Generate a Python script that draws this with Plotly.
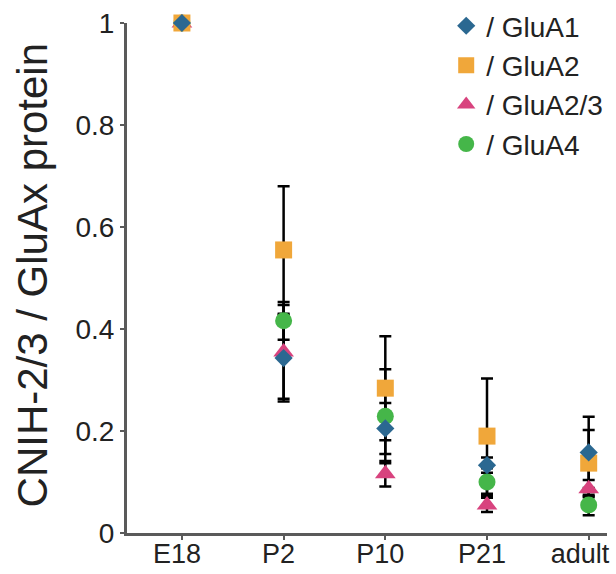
import plotly.graph_objects as go

categories = ["E18", "P2", "P10", "P21", "adult"]
x_tick_labels = ["E18", "P2", "P10", "P21", "adult\u00a0"]
y_ticks = [0, 0.2, 0.4, 0.6, 0.8, 1]
y_tick_labels = ["0", "0.2", "0.4", "0.6", "0.8", "1"]

glua1 = [1.0, 0.343, 0.205, 0.133, 0.158]
glua1_err = [0, 0.085, 0.05, 0.015, 0.07]
glua2 = [1.0, 0.555, 0.284, 0.19, 0.137]
glua2_err = [0, 0.125, 0.102, 0.113, 0.065]
glua23 = [1.0, 0.355, 0.116, 0.055, 0.087]
glua23_err = [0, 0.092, 0.025, 0.014, 0.017]
glua4 = [1.0, 0.416, 0.229, 0.10, 0.055]
glua4_err = [0, 0.037, 0.092, 0.027, 0.02]

series = [
    ("/ GluA1", glua1, glua1_err, "diamond", "#2b6891", 14, 1),
    ("/ GluA2", glua2, glua2_err, "square", "#f0a73a", 17, 2),
    ("/ GluA2/3", glua23, glua23_err, "triangle-up", "#d8437e", 18, 3),
    ("/ GluA4", glua4, glua4_err, "circle", "#45b649", 17, 4),
]

FONT = "Arial, 'Liberation Sans', Helvetica, sans-serif"
fig = go.Figure()

# error bars first so markers sit on top
for name, vals, err, sym, col, sz, rank in series:
    fig.add_trace(go.Scatter(
        x=categories, y=vals, mode="markers",
        marker=dict(size=1, color="rgba(0,0,0,0)"),
        error_y=dict(type="data", array=err, symmetric=True,
                     color="black", thickness=2.5, width=6),
        showlegend=False, hoverinfo="skip", cliponaxis=False,
    ))

draw_order = [3, 2, 1, 0]
for i in draw_order:
    name, vals, err, sym, col, sz, rank = series[i]
    fig.add_trace(go.Scatter(
        x=categories, y=vals, mode="markers", name=name,
        marker=dict(symbol=sym, size=sz, color=col, line=dict(width=0)),
        legendrank=rank, cliponaxis=False,
    ))

fig.update_layout(
    width=616, height=574,
    margin=dict(l=127, r=9, t=23, b=41, autoexpand=False),
    paper_bgcolor="white", plot_bgcolor="white",
    font=dict(family=FONT, size=28, color="#222222"),
    showlegend=True,
    legend=dict(x=0.665, y=1.043, xanchor="left", yanchor="top",
                bgcolor="rgba(0,0,0,0)", font=dict(size=28, color="#222222"),
                itemsizing="trace", tracegroupgap=0),
    xaxis=dict(type="category", range=[-0.54, 4.18], showgrid=False,
               tickvals=categories, ticktext=x_tick_labels,
               zeroline=False, showline=True, linecolor="#5a5a5a", linewidth=3,
               ticks="outside", ticklen=4, tickwidth=2, tickcolor="#5a5a5a",
               tickfont=dict(size=27), automargin=False,
               ticklabelstandoff=-9, ticklabelshift=-5),
    yaxis=dict(range=[0, 1], tickvals=y_ticks, ticktext=y_tick_labels,
               showgrid=False, zeroline=False, showline=True,
               linecolor="#5a5a5a", linewidth=3,
               ticks="outside", ticklen=4, tickwidth=2, tickcolor="#5a5a5a",
               tickfont=dict(size=28), automargin=False),
    annotations=[dict(text="CNIH-2/3 / GluAx protein", textangle=-90,
                      xref="paper", yref="paper", x=-(127 - 32) / 480, y=0.505,
                      xanchor="center", yanchor="middle", showarrow=False,
                      font=dict(size=42, color="#222222", family=FONT))],
)

fig.write_html("out.html")
